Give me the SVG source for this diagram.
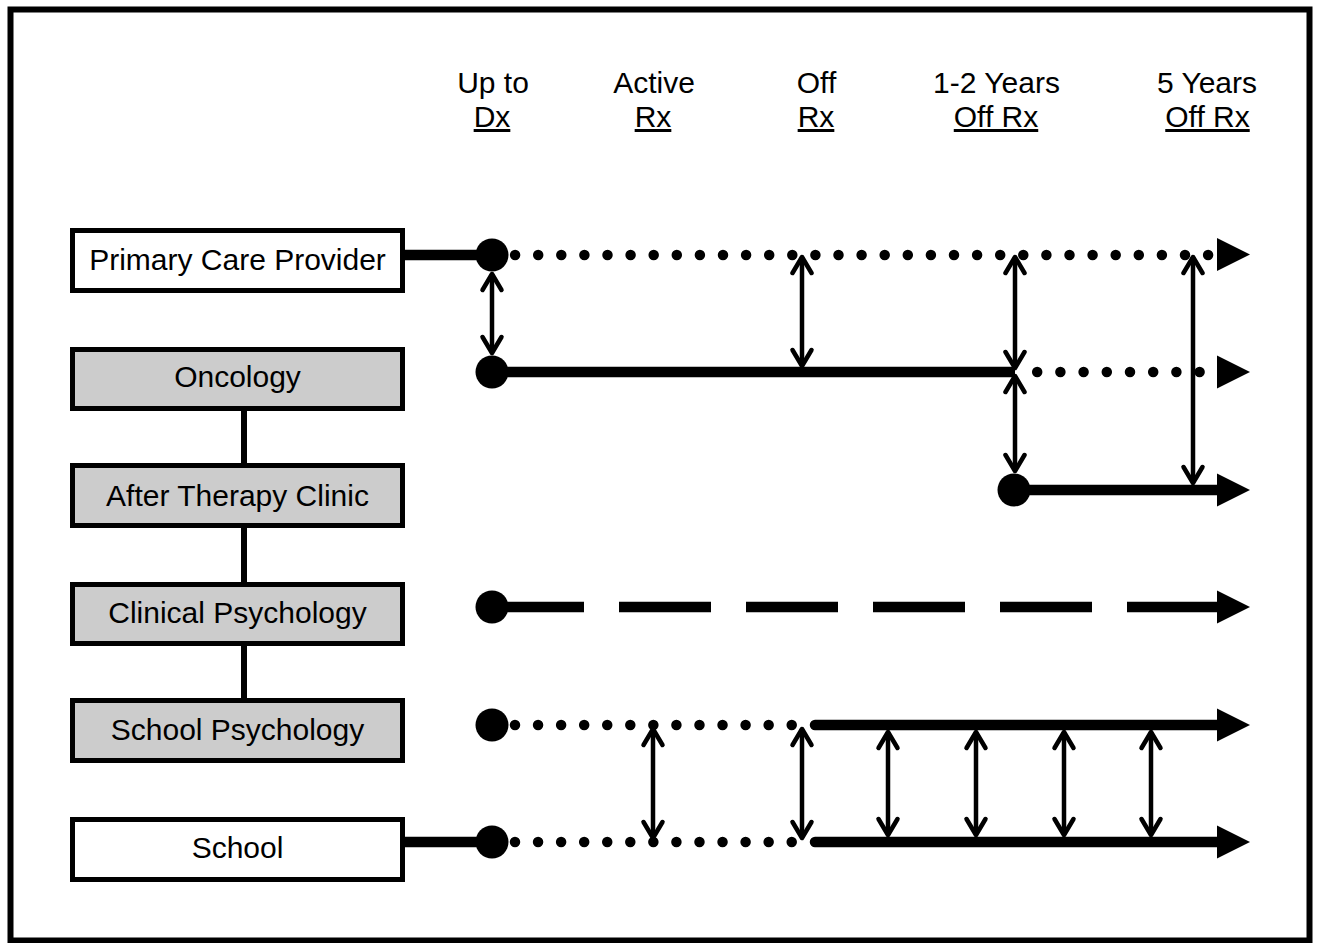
<svg xmlns="http://www.w3.org/2000/svg" width="1318" height="943" viewBox="0 0 1318 943">
<style>
text{font-family:"Liberation Sans",Arial,sans-serif;font-size:30px;fill:#000;text-anchor:middle}
.hd{font-size:30px}
.ul{text-decoration:underline}
.box{stroke:#000;stroke-width:5}
.white{fill:#fff}
.gray{fill:#cccccc}
.thick{stroke:#000;stroke-width:10.5;fill:none}
.dot{stroke:#000;stroke-width:10.5;fill:none;stroke-linecap:round}
.dash{stroke:#000;stroke-width:10.5;fill:none;stroke-dasharray:92 35}
.va{stroke:#000;stroke-width:4.5;fill:none;marker-start:url(#chev);marker-end:url(#chev)}
.link{stroke:#000;stroke-width:6}
</style>
<defs>
<marker id="chev" markerUnits="userSpaceOnUse" orient="auto-start-reverse" markerWidth="40" markerHeight="40" refX="0" refY="0" viewBox="-20 -20 40 40" overflow="visible">
<path d="M-16,-9.5 L0,0 L-16,9.5" fill="none" stroke="#000" stroke-width="4.5" stroke-linecap="round" stroke-linejoin="round"/>
</marker>
<path id="ah" d="M-33,-16.5 L0,0 L-33,16.5 Z" fill="#000"/>
</defs>
<rect x="10.5" y="9.5" width="1299" height="931" fill="#fff" stroke="#000" stroke-width="6"/>

<g id="headers">
<text class="hd" x="493" y="93">Up to</text><text class="hd ul" x="492" y="127">Dx</text>
<text class="hd" x="654" y="93">Active</text><text class="hd ul" x="653" y="127">Rx</text>
<text class="hd" x="816.5" y="93">Off</text><text class="hd ul" x="816" y="127">Rx</text>
<text class="hd" x="996.5" y="93">1-2 Years</text><text class="hd ul" x="996" y="127">Off Rx</text>
<text class="hd" x="1207" y="93">5 Years</text><text class="hd ul" x="1207.5" y="127">Off Rx</text>
</g>

<g id="connectors">
<line class="link" x1="244" y1="411" x2="244" y2="463"/>
<line class="link" x1="244" y1="528" x2="244" y2="582"/>
<line class="link" x1="244" y1="646" x2="244" y2="698"/>

<line class="thick" x1="405" y1="255" x2="492" y2="255"/>
<path class="dot" d="M515.1 255H1210" stroke-dasharray="0 23.1"/>
<use href="#ah" x="1250" y="254.5"/>

<line class="thick" x1="492" y1="372" x2="1015" y2="372"/>
<path class="dot" d="M1037.2 372H1202" stroke-dasharray="0 23.2"/>
<use href="#ah" x="1250" y="372"/>

<line class="thick" x1="1014" y1="490" x2="1220" y2="490"/>
<use href="#ah" x="1250" y="490"/>

<line class="dash" x1="492" y1="607" x2="1219" y2="607"/>
<use href="#ah" x="1250" y="607"/>

<path class="dot" d="M515 725H793" stroke-dasharray="0 23.06"/>
<line class="thick" x1="815" y1="725" x2="1220" y2="725" stroke-linecap="round"/>
<use href="#ah" x="1250" y="725"/>

<line class="thick" x1="405" y1="842" x2="492" y2="842"/>
<path class="dot" d="M515 842H793" stroke-dasharray="0 23.06"/>
<line class="thick" x1="815" y1="842" x2="1220" y2="842" stroke-linecap="round"/>
<use href="#ah" x="1250" y="842"/>

<circle cx="492" cy="255" r="16.5"/>
<circle cx="492" cy="372" r="16.5"/>
<circle cx="1014" cy="490" r="16.5"/>
<circle cx="492" cy="607" r="16.5"/>
<circle cx="492" cy="725" r="16.5"/>
<circle cx="492" cy="842" r="16.5"/>

<line class="va" x1="492" y1="274" x2="492" y2="353"/>
<line class="va" x1="802" y1="257" x2="802" y2="366"/>
<line class="va" x1="1015" y1="257" x2="1015" y2="368"/>
<line class="va" x1="1015" y1="376" x2="1015" y2="471"/>
<line class="va" x1="1193" y1="257" x2="1193" y2="483"/>
<line class="va" x1="653" y1="729" x2="653" y2="838"/>
<line class="va" x1="802" y1="729" x2="802" y2="838"/>
<line class="va" x1="888" y1="732" x2="888" y2="835"/>
<line class="va" x1="976" y1="732" x2="976" y2="835"/>
<line class="va" x1="1064" y1="732" x2="1064" y2="835"/>
<line class="va" x1="1151" y1="732" x2="1151" y2="835"/>
</g>

<g id="pcp"><rect class="box white" x="72.5" y="230.5" width="330" height="60"/><text x="237.5" y="270">Primary Care Provider</text></g>
<g id="oncology"><rect class="box gray" x="72.5" y="349.5" width="330" height="59"/><text x="237.5" y="387">Oncology</text></g>
<g id="atc"><rect class="box gray" x="72.5" y="465.5" width="330" height="60"/><text x="237.5" y="506">After Therapy Clinic</text></g>
<g id="clinpsych"><rect class="box gray" x="72.5" y="584.5" width="330" height="59"/><text x="237.5" y="623">Clinical Psychology</text></g>
<g id="schoolpsych"><rect class="box gray" x="72.5" y="700.5" width="330" height="60"/><text x="237.5" y="740">School Psychology</text></g>
<g id="school"><rect class="box white" x="72.5" y="819.5" width="330" height="60"/><text x="237.5" y="858">School</text></g>
</svg>
